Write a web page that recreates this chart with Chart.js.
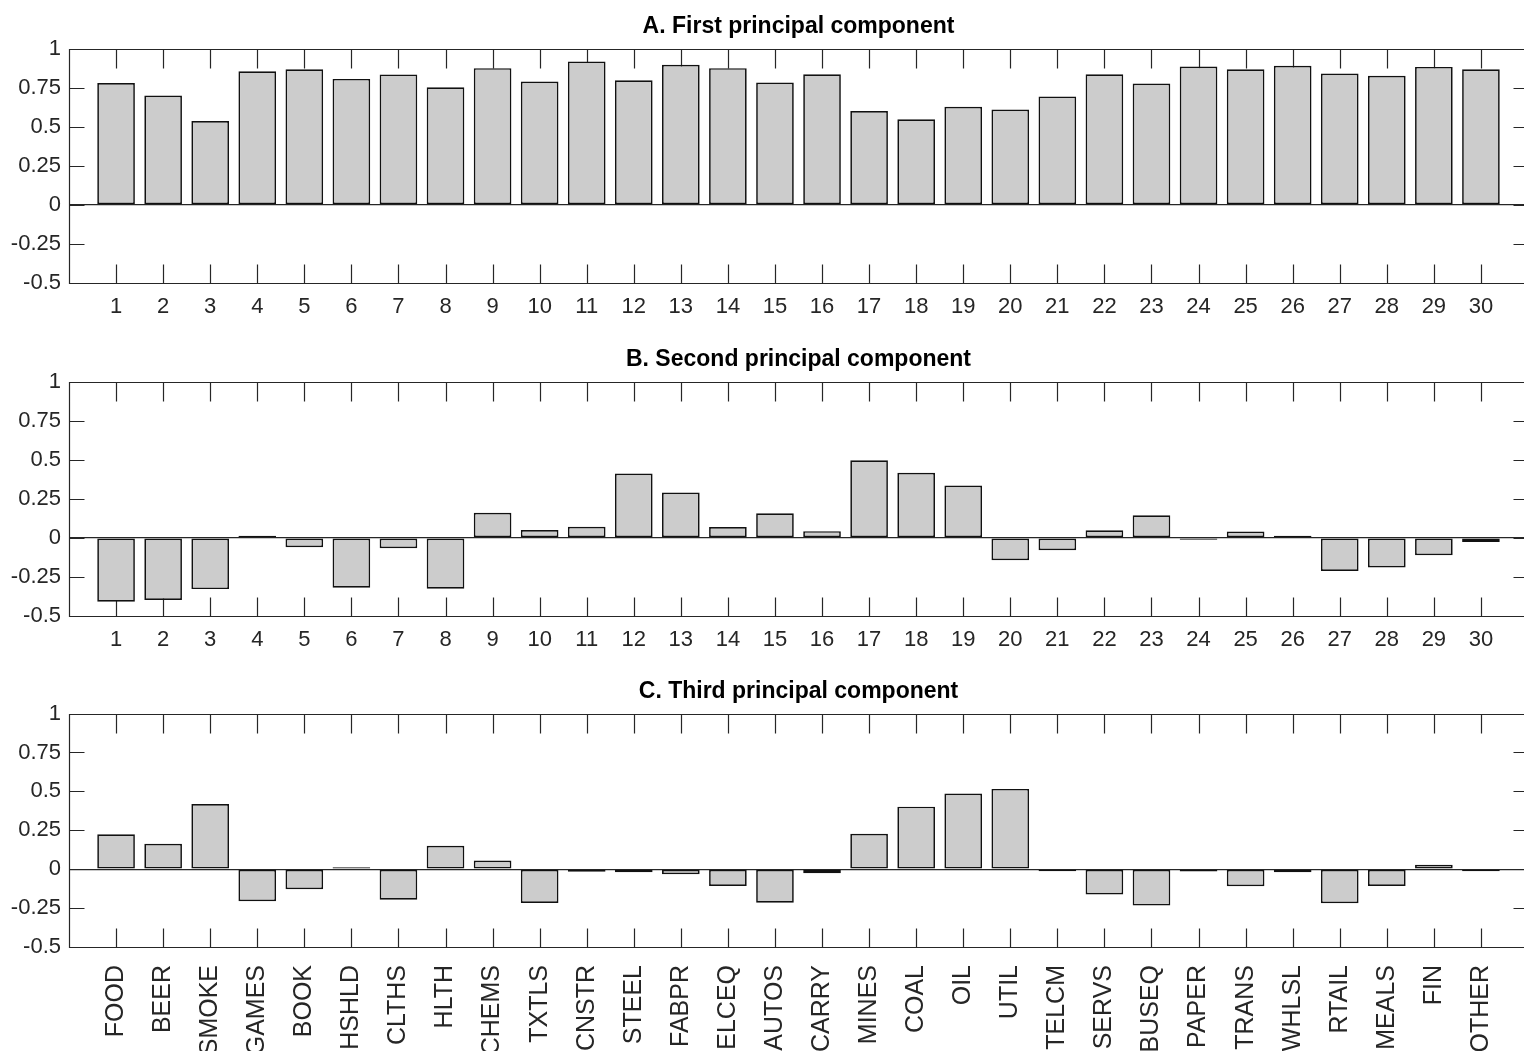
<!DOCTYPE html>
<html>
<head>
<meta charset="utf-8">
<script src="https://cdn.jsdelivr.net/npm/chart.js@4"></script>
<style>
    html, body { margin: 0; padding: 0; background: #fff; overflow: hidden; width: 1524px; height: 1051px; }
    .panel { position: absolute; left: 0; width: 1530px; }
</style>
</head>
<body>
<div class="panel" style="top:0px;height:330px"><canvas id="chartA"></canvas></div>
<div class="panel" style="top:333px;height:330px"><canvas id="chartB"></canvas></div>
<div class="panel" style="top:665px;height:386px"><canvas id="chartC"></canvas></div>
<script>
const industries = ["FOOD", "BEER", "SMOKE", "GAMES", "BOOK", "HSHLD", "CLTHS", "HLTH", "CHEMS", "TXTLS",
    "CNSTR", "STEEL", "FABPR", "ELCEQ", "AUTOS", "CARRY", "MINES", "COAL", "OIL", "UTIL",
    "TELCM", "SERVS", "BUSEQ", "PAPER", "TRANS", "WHLSL", "RTAIL", "MEALS", "FIN", "OTHER"];

const firstPC = [0.78, 0.70, 0.536, 0.855, 0.868, 0.806, 0.835, 0.752, 0.875, 0.789,
    0.918, 0.797, 0.897, 0.875, 0.783, 0.836, 0.60, 0.548, 0.628, 0.61,
    0.694, 0.836, 0.776, 0.885, 0.868, 0.89, 0.84, 0.826, 0.883, 0.868];

const secondPC = [-0.409, -0.397, -0.328, 0.013, -0.06, -0.319, -0.066, -0.326, 0.161, 0.05,
    0.071, 0.412, 0.29, 0.069, 0.157, 0.043, 0.496, 0.416, 0.335, -0.143,
    -0.079, 0.048, 0.144, -0.002, 0.041, 0.008, -0.212, -0.19, -0.111, -0.026];

const thirdPC = [0.224, 0.163, 0.419, -0.206, -0.129, 0.011, -0.196, 0.15, 0.056, -0.217,
    -0.017, -0.019, -0.032, -0.108, -0.215, -0.026, 0.228, 0.402, 0.486, 0.516,
    -0.006, -0.163, -0.234, -0.015, -0.11, -0.019, -0.219, -0.108, 0.028, -0.013];

const yTicks = [1, 0.75, 0.5, 0.25, 0, -0.25, -0.5];
const titles = ["A. First principal component", "B. Second principal component", "C. Third principal component"];

const sans = "'Liberation Sans', Arial, sans-serif";
const lineColor = "#262626";

// рамка и засечки внутрь, как в matlab
const framePlugin = {
    id: "frame",
    beforeDatasetsDraw(chart) {
        const ctx = chart.ctx;
        const a = chart.chartArea;
        const xs = chart.scales.x;
        const ys = chart.scales.y;
        const l = Math.round(a.left) + 0.5, r = Math.round(a.right) + 0.5;
        const t = Math.round(a.top) + 0.5, b = Math.round(a.bottom) + 0.5;
        ctx.save();
        ctx.strokeStyle = lineColor;
        ctx.lineWidth = 1.2;
        ctx.beginPath();
        ctx.moveTo(r, t); ctx.lineTo(l, t); ctx.lineTo(l, b); ctx.lineTo(r, b); ctx.lineTo(r, t);
        for (let v of yTicks) {
            const y = Math.round(ys.getPixelForValue(v)) + 0.5;
            ctx.moveTo(l, y); ctx.lineTo(l + 15, y);
            ctx.moveTo(r - 15, y); ctx.lineTo(r, y);
        }
        for (let i = 1; i <= industries.length; i++) {
            const x = Math.round(xs.getPixelForValue(i)) + 0.5;
            ctx.moveTo(x, t); ctx.lineTo(x, t + 19);
            ctx.moveTo(x, b - 19); ctx.lineTo(x, b);
        }
        ctx.stroke();
        ctx.restore();
    }
};

function makeChart(id, title, values, xHeight, useNames) {
    const points = values.map((v, i) => ({ x: i + 1, y: v }));
    const config = {
        type: "bar",
        data: {
            datasets: [{
                data: points,
                backgroundColor: "#cccccc",
                borderColor: "#111111",
                borderWidth: 1.7,
                borderSkipped: false,
                minBarLength: 2,
                barPercentage: 0.8,
                categoryPercentage: 1,
            }],
        },
        options: {
            responsive: true,
            maintainAspectRatio: false,
            animation: false,
            layout: { padding: { left: 0, right: 2, top: 0, bottom: 0 } },
            plugins: {
                legend: { display: false },
                tooltip: { enabled: false },
                title: {
                    display: true,
                    text: title,
                    fullSize: false,
                    color: "#000",
                    font: { family: sans, size: 23, weight: "bold" },
                    padding: { top: 13, bottom: 8 },
                },
            },
            scales: {
                x: {
                    type: "linear",
                    min: 0,
                    max: 31,
                    offset: false,
                    grid: { display: false },
                    border: { display: false },
                    afterFit: (scale) => { scale.height = xHeight; },
                    afterBuildTicks: (scale) => {
                        scale.ticks = industries.map((n, i) => ({ value: i + 1 }));
                    },
                    ticks: {
                        autoSkip: false,
                        padding: useNames ? 10 : 3,
                        color: lineColor,
                        maxRotation: useNames ? 90 : 0,
                        minRotation: useNames ? 90 : 0,
                        font: { family: sans, size: useNames ? 25 : 22 },
                        callback: (v) => useNames ? industries[v - 1] : String(v),
                    },
                },
                y: {
                    min: -0.5,
                    max: 1,
                    grid: {
                        drawTicks: false,
                        lineWidth: 1.2,
                        color: (c) => (c.tick && c.tick.value === 0 ? lineColor : "rgba(0,0,0,0)"),
                    },
                    border: { display: false },
                    afterFit: (scale) => { scale.width = 69; },
                    afterBuildTicks: (scale) => {
                        scale.ticks = yTicks.map((v) => ({ value: v }));
                    },
                    ticks: {
                        padding: 8,
                        color: lineColor,
                        font: { family: sans, size: 22 },
                        callback: (v) => String(v),
                    },
                },
            },
        },
        plugins: [framePlugin],
    };
    return new Chart(document.getElementById(id), config);
}

makeChart("chartA", titles[0], firstPC, 47, false);
makeChart("chartB", titles[1], secondPC, 47, false);
makeChart("chartC", titles[2], thirdPC, 104, true);
</script>
</body>
</html>
